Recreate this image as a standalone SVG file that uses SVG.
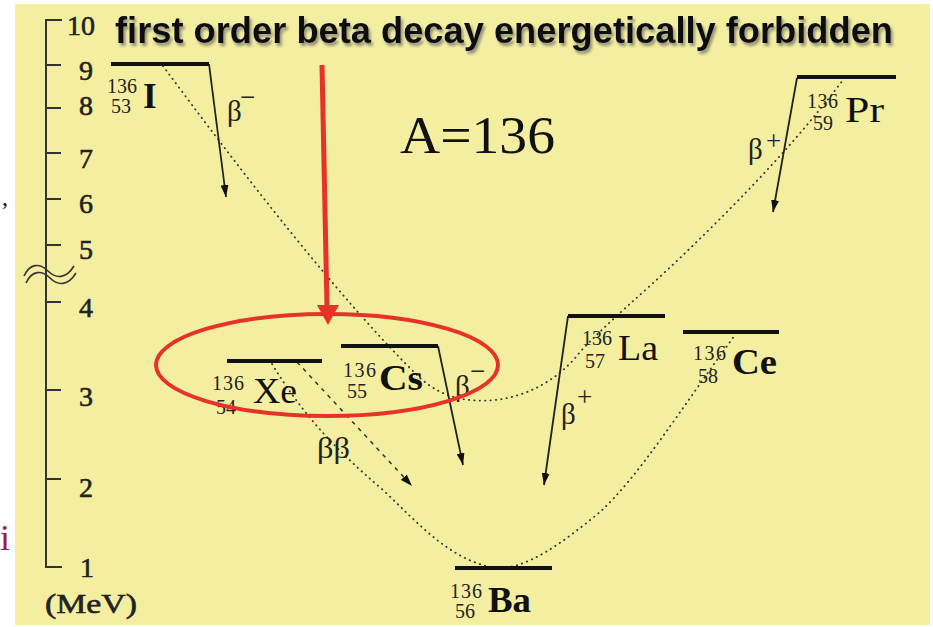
<svg xmlns="http://www.w3.org/2000/svg" width="933" height="627" viewBox="0 0 933 627">
<defs>
<style>
.lvl{stroke:#111;stroke-width:4;fill:none}
.arr{stroke:#222;stroke-width:1.8;fill:none;marker-end:url(#ah)}
.dot{stroke:#333;stroke-width:1.8;fill:none;stroke-dasharray:0.4 5;stroke-linecap:round}
.dash{stroke:#333;stroke-width:1.5;fill:none;stroke-dasharray:4 5;marker-end:url(#ah)}
.ax{stroke:#333;stroke-width:2;fill:none}
.num{font-family:"Liberation Serif",serif;font-size:28px;fill:#222;stroke:#222;stroke-width:0.6}
.sym{font-family:"Liberation Serif",serif;font-size:35px;fill:#111}
.b{font-weight:bold}
.sm{font-family:"Liberation Serif",serif;font-size:20px;fill:#222}
.beta{font-family:"Liberation Serif",serif;font-size:29px;fill:#222}
.sgn{font-size:27px}
</style>
<marker id="ah" viewBox="0 0 12 8" refX="12" refY="4" markerWidth="12" markerHeight="8" markerUnits="userSpaceOnUse" orient="auto">
<path d="M0,0 L12,4 L0,8 z" fill="#111"/>
</marker>
<filter id="sh" x="-5%" y="-30%" width="110%" height="160%">
<feDropShadow dx="2" dy="3" stdDeviation="1.5" flood-color="#666" flood-opacity="0.7"/>
</filter>
</defs>

<rect x="0" y="0" width="933" height="627" fill="#ffffff"/>
<rect x="15" y="4" width="915" height="621" fill="#F4EFA0"/>

<text x="2" y="205" font-family="Liberation Serif,serif" font-size="24" fill="#111">,</text>
<text x="0" y="550" font-family="Liberation Serif,serif" font-size="36" fill="#9C1A48">i</text>

<g id="axis">
<path class="ax" d="M62,20 H46 V567 H62 M46,65 H61 M46,108 H61 M46,153 H61 M46,199 H61 M46,245 H61 M46,302 H61 M46,390 H61 M46,479 H61"/>
<path d="M24,276 C30,263 40,263 48,271 C56,279 66,279 74,266 M26,283 C32,270 42,270 50,278 C58,286 68,286 76,273" stroke="#333" stroke-width="1.6" fill="none"/>
<text class="num" x="67" y="35" stroke-width="0.2">10</text>
<text class="num" x="79" y="80">9</text>
<text class="num" x="79" y="115">8</text>
<text class="num" x="79" y="168">7</text>
<text class="num" x="79" y="213">6</text>
<text class="num" x="79" y="259">5</text>
<text class="num" x="79" y="317">4</text>
<text class="num" x="79" y="406">3</text>
<text class="num" x="79" y="497">2</text>
<text class="num" x="80" y="577">1</text>
<text class="num" x="45" y="613" font-size="25" textLength="92" lengthAdjust="spacingAndGlyphs">(MeV)</text>
</g>

<g id="title">
<text x="115" y="43" font-family="Liberation Sans,Arial,sans-serif" font-weight="bold" font-size="37" fill="#111" textLength="778" lengthAdjust="spacingAndGlyphs" filter="url(#sh)">first order beta decay energetically forbidden</text>
</g>

<g id="mass">
<text x="400" y="153" font-family="Liberation Serif,serif" font-size="53" fill="#111" textLength="155" lengthAdjust="spacingAndGlyphs">A=136</text>
</g>

<g id="connectors">
<path class="dot" d="M163,66 C240,170 340,300 420,378 C445,400 470,402 495,400 C530,396 560,378 580,352 C610,320 640,296 680,258 C730,210 790,150 843,80"/>
<path class="dot" d="M272,364 C300,410 330,445 383,490 C420,525 450,560 495,568 C525,570 560,545 600,512 C640,475 680,410 735,335"/>
<path class="arr" d="M209,64 L226,197"/>
<path class="arr" d="M438,346 L463,465"/>
<path class="arr" d="M568,316 L544,485"/>
<path class="arr" d="M797,78 L773,212"/>
<path class="dash" d="M297,362 L412,486"/>
<text class="beta" x="227" y="121">β<tspan class="sgn" x="240" y="106">−</tspan></text>
<text class="beta" x="455" y="396">β<tspan class="sgn" x="470" y="380">−</tspan></text>
<text class="beta" x="561" y="424">β<tspan class="sgn" x="577" y="406">+</tspan></text>
<text class="beta" x="748" y="159">β<tspan class="sgn" x="766" y="150">+</tspan></text>
<text class="beta" x="317" y="458" textLength="33" lengthAdjust="spacingAndGlyphs">ββ</text>
</g>

<g id="I-136">
<path class="lvl" d="M111,64 H209"/>
<text class="sm" x="107" y="93" textLength="30">136</text>
<text class="sm" x="111" y="113">53</text>
<text class="sym b" x="143" y="108">I</text>
</g>

<g id="Xe-136">
<path class="lvl" d="M227,361 H322"/>
<text class="sm" x="212" y="390" textLength="32">136</text>
<text class="sm" x="216" y="414">54</text>
<text class="sym" x="253" y="403" textLength="44" lengthAdjust="spacingAndGlyphs">Xe</text>
</g>

<g id="Cs-136">
<path class="lvl" d="M341,346 H438"/>
<text class="sm" x="343" y="377" textLength="33">136</text>
<text class="sm" x="347" y="398">55</text>
<text class="sym b" x="379" y="390" textLength="44" lengthAdjust="spacingAndGlyphs">Cs</text>
</g>

<g id="La-136">
<path class="lvl" d="M568,316 H665"/>
<text class="sm" x="582" y="345" textLength="30">136</text>
<text class="sm" x="585" y="368">57</text>
<text class="sym" x="618" y="360" textLength="40" lengthAdjust="spacingAndGlyphs">La</text>
</g>

<g id="Ce-136">
<path class="lvl" d="M683,332 H779"/>
<text class="sm" x="693" y="360" textLength="33">136</text>
<text class="sm" x="698" y="383">58</text>
<text class="sym b" x="732" y="374" textLength="45" lengthAdjust="spacingAndGlyphs">Ce</text>
</g>

<g id="Pr-136">
<path class="lvl" d="M797,77 H896"/>
<text class="sm" x="807" y="108" textLength="31">136</text>
<text class="sm" x="813" y="130">59</text>
<text class="sym" x="845" y="122" textLength="39" lengthAdjust="spacingAndGlyphs">Pr</text>
</g>

<g id="Ba-136">
<path class="lvl" d="M455,568 H552"/>
<text class="sm" x="450" y="598" textLength="32">136</text>
<text class="sm" x="455" y="618">56</text>
<text class="sym b" x="488" y="612" textLength="43" lengthAdjust="spacingAndGlyphs">Ba</text>
</g>

<g id="highlight">
<ellipse cx="327" cy="365" rx="171" ry="51" fill="none" stroke="#E63228" stroke-width="4"/>
<path d="M322,65 L327,307" stroke="#E63228" stroke-width="5" fill="none"/>
<path d="M317,305 L339,305 L328,325 z" fill="#E63228"/>
</g>
</svg>
